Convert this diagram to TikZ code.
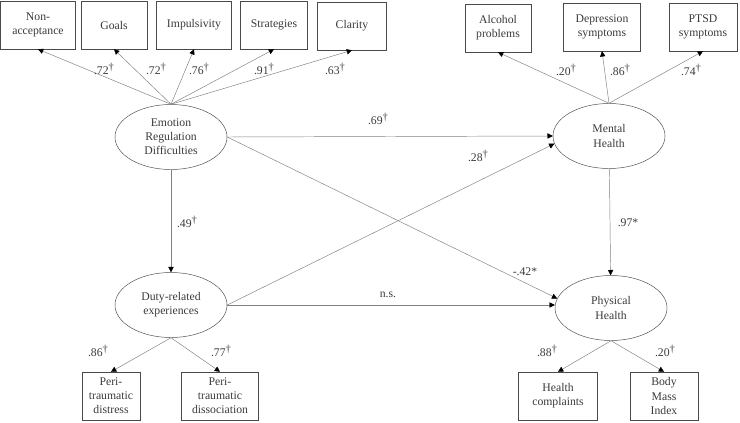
\documentclass[tikz,border=0pt]{standalone}
\usepackage{fontspec}
\setmainfont{Liberation Serif}
\usepackage{xcolor}
\usepackage{tikz}
\usetikzlibrary{shapes.geometric, arrows.meta, positioning}
\definecolor{txtgray}{HTML}{3A3A3A}
\definecolor{linegray}{HTML}{808080}
\definecolor{boxgray}{HTML}{4A4A4A}
\tikzset{
  latent/.style={ellipse, draw=boxgray, minimum width=3.36cm, minimum height=1.95cm, align=center, text=txtgray, font=\normalsize, inner sep=1pt},
  indicator/.style={rectangle, draw=boxgray, minimum height=1.44cm, align=center, text=txtgray, font=\normalsize, inner sep=2pt},
  path/.style={draw=linegray, -{Triangle[length=4.5pt,width=4.5pt,black]}},
  coef/.style={text=txtgray, font=\normalsize, inner sep=1pt}
}
\newcommand{\dg}{\raisebox{0.7ex}{\small †}}

\begin{document}
\begin{tikzpicture}[x=0.03cm, y=-0.03cm]
\useasboundingbox (0,0) rectangle (740,422);

% Latent variables
\node (erd) [latent] at (171,137) {Emotion\\Regulation\\Difficulties};
\node (dre) [latent] at (171,305) {Duty-related\\experiences};
\node (mh) [latent] at (609,136) {Mental\\Health};
\node (ph) [latent] at (611,308) {Physical\\Health};

% Indicators of emotion regulation
\node (nonacc) [indicator, minimum width=2.25cm] at (38,25) {Non-\\acceptance};
\node (goals) [indicator, minimum width=1.98cm] at (114,25) {Goals};
\node (impuls) [indicator, minimum width=2.25cm] at (194,25) {Impulsivity};
\node (strat) [indicator, minimum width=2.01cm] at (274,25) {Strategies};
\node (clarity) [indicator, minimum width=2.07cm] at (352,26) {Clarity};

% Indicators of mental health
\node (alcohol) [indicator, minimum width=1.98cm] at (498,28) {Alcohol\\problems};
\node (depress) [indicator, minimum width=2.31cm] at (602,27) {Depression\\symptoms};
\node (ptsd) [indicator, minimum width=2.04cm] at (703,27) {PTSD\\symptoms};

% Indicators of duty-related experiences and physical health
\node (distress) [indicator, minimum width=1.74cm] at (111,396) {Peri-\\traumatic\\distress};
\node (dissoc) [indicator, minimum width=2.31cm] at (220,396) {Peri-\\traumatic\\dissociation};
\node (complaints) [indicator, minimum width=2.37cm] at (558,396) {Health\\complaints};
\node (bmi) [indicator, minimum width=2.04cm] at (664,396) {Body\\Mass\\Index};

% Loadings
\draw [path] (erd.north) -- (nonacc.south);
\draw [path] (erd.north) -- (goals.south);
\draw [path] (erd.north) -- (impuls.south);
\draw [path] (erd.north) -- (strat.south);
\draw [path] (erd.north) -- (clarity.south);
\draw [path] (mh.north) -- (alcohol.south);
\draw [path] (mh.north) -- (depress.south);
\draw [path] (mh.north) -- (ptsd.south);
\draw [path] (dre.south) -- (distress.north);
\draw [path] (dre.south) -- (dissoc.north);
\draw [path] (ph.south) -- (complaints.north);
\draw [path] (ph.south) -- (bmi.north);

% Structural paths
\draw [path] (erd.east) -- (mh.west);
\draw [path] (erd) -- (dre);
\draw [path] (erd.east) -- (ph.170);
\draw [path] (dre.east) -- (mh.188);
\draw [path] (dre.east) -- (dre.east -| ph.west);
\draw [path] (mh) -- (ph);

% Coefficients
\node (c1) [coef] at (104,69) {.72\dg};
\node (c2) [coef] at (156,69) {.72\dg};
\node (c3) [coef] at (199,69) {.76\dg};
\node (c4) [coef] at (264,69) {.91\dg};
\node (c5) [coef] at (335,69) {.63\dg};
\node (c6) [coef] at (566,70) {.20\dg};
\node (c7) [coef] at (620,70) {.86\dg};
\node (c8) [coef] at (691,70) {.74\dg};
\node (c9) [coef] at (378,119) {.69\dg};
\node (c10) [coef] at (478,156) {.28\dg};
\node (c11) [coef] at (187,222) {.49\dg};
\node (c12) [coef] at (628,223) {.97*};
\node (c13) [coef] at (525,272) {-.42*};
\node (c14) [coef] at (388,295) {n.s.};
\node (c15) [coef] at (98,351) {.86\dg};
\node (c16) [coef] at (221,351) {.77\dg};
\node (c17) [coef] at (547,351) {.88\dg};
\node (c18) [coef] at (665,351) {.20\dg};

\end{tikzpicture}
\end{document}
